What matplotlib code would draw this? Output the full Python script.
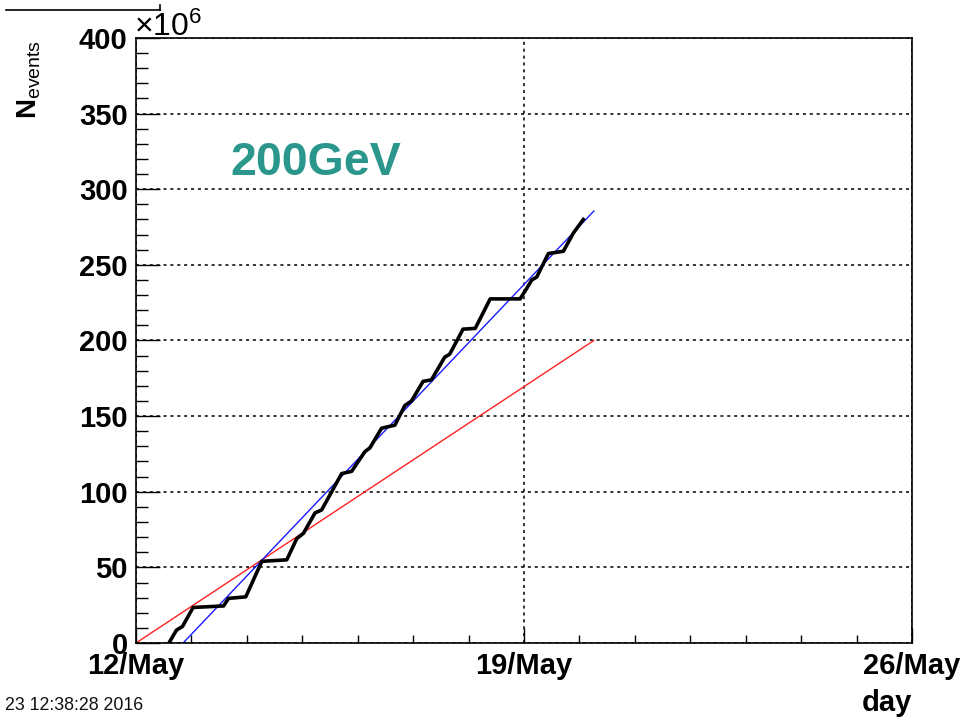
import matplotlib
matplotlib.use("Agg")
import matplotlib.pyplot as plt
from matplotlib.lines import Line2D
from matplotlib.ticker import FixedLocator, MultipleLocator
import numpy as np

plt.rcParams['font.family'] = ['Liberation Sans', 'DejaVu Sans']
plt.rcParams['mathtext.fontset'] = 'custom'
plt.rcParams['mathtext.rm'] = 'Liberation Sans'
plt.rcParams['mathtext.bf'] = 'Liberation Sans:bold'

# Accumulated events (x10^6) versus days since 12/May
days = [0.61, 0.73, 0.84, 1.03, 1.58, 1.67, 1.98, 2.27, 2.72, 2.90, 3.02, 3.23,
        3.35, 3.71, 3.89, 4.13, 4.22, 4.43, 4.67, 4.85, 4.97, 5.18, 5.33, 5.57,
        5.66, 5.90, 6.12, 6.39, 6.93, 7.05, 7.14, 7.23, 7.44, 7.71, 7.89, 8.07]
events = [1, 8.5, 11, 23.5, 24.5, 29.5, 30.5, 54, 55, 69, 72.5, 86,
          88, 112, 113.5, 126.5, 129, 142, 144, 157, 160, 173, 174, 189,
          191, 207.5, 208, 227.5, 227.5, 234.5, 240, 242, 257.5, 259, 271, 280]

# Goal line and linear trend
goal_days = [0.0, 8.26]
goal_events = [0.0, 200.0]
trend_days = [0.85, 8.26]
trend_events = [0.0, 285.6]

date_ticks = [0, 7, 14]
date_labels = ['12/May', '19/May', '26/May']

fig = plt.figure(figsize=(9.61, 7.17), dpi=100)
ax = fig.add_axes([136/961, 1-643/717, (912-136)/961, (643-38)/717])

ax.plot(goal_days, goal_events, color='#ff2020', lw=1.0)
ax.plot(trend_days, trend_events, color='#1a1aff', lw=1.0)
ax.plot(days, events, color='black', lw=2.6, solid_joinstyle='round')

ax.set_xlim(0, 14)
ax.set_ylim(0, 400)

ax.xaxis.set_major_locator(FixedLocator(date_ticks))
ax.xaxis.set_minor_locator(MultipleLocator(1))
ax.set_xticklabels(date_labels)
ax.yaxis.set_major_locator(MultipleLocator(50))
ax.yaxis.set_minor_locator(MultipleLocator(10))

ax.tick_params(axis='both', which='both', direction='in', top=False, right=False,
               width=1.0, color='black')
ax.tick_params(axis='y', which='major', length=17, labelsize=21, pad=6)
ax.tick_params(axis='y', which='minor', length=8.5)
ax.tick_params(axis='x', which='major', length=11, labelsize=21, pad=6.5)
ax.tick_params(axis='x', which='minor', length=6)
for lab in ax.get_xticklabels() + ax.get_yticklabels():
    lab.set_fontweight('bold')

ax.grid(True, which='major', color='black', linestyle=(0, (2, 2.5)), lw=1.1)
for sp in ax.spines.values():
    sp.set_linewidth(1.2)

ax.text(0.121, 0.7736, '200GeV', transform=ax.transAxes, color='#2a968c',
        fontsize=33.5, fontweight='bold', ha='left', va='baseline')

fig.text(134/961, 1-36/717, r'$\times\mathregular{10^{6}}$', fontsize=23,
         ha='left', va='baseline')
fig.text(29/961, 1-40/717, r'$\mathbf{N}_{\mathrm{events}}$', fontsize=20,
         rotation=90, ha='center', va='top')
fig.text(912/961, 1-703/717, 'day', fontsize=21, fontweight='bold',
         ha='right', va='center')
fig.text(5/961, 1-705/717, '23 12:38:28 2016', fontsize=12.8, ha='left',
         va='center', color='#111111')

fig.add_artist(Line2D([6/961, 160/961], [1-10/717, 1-10/717], color='black', lw=1.2))
fig.add_artist(Line2D([160/961, 160/961], [1-10/717, 1-5/717], color='black', lw=1.2))

fig.savefig('out.png', dpi=100)
